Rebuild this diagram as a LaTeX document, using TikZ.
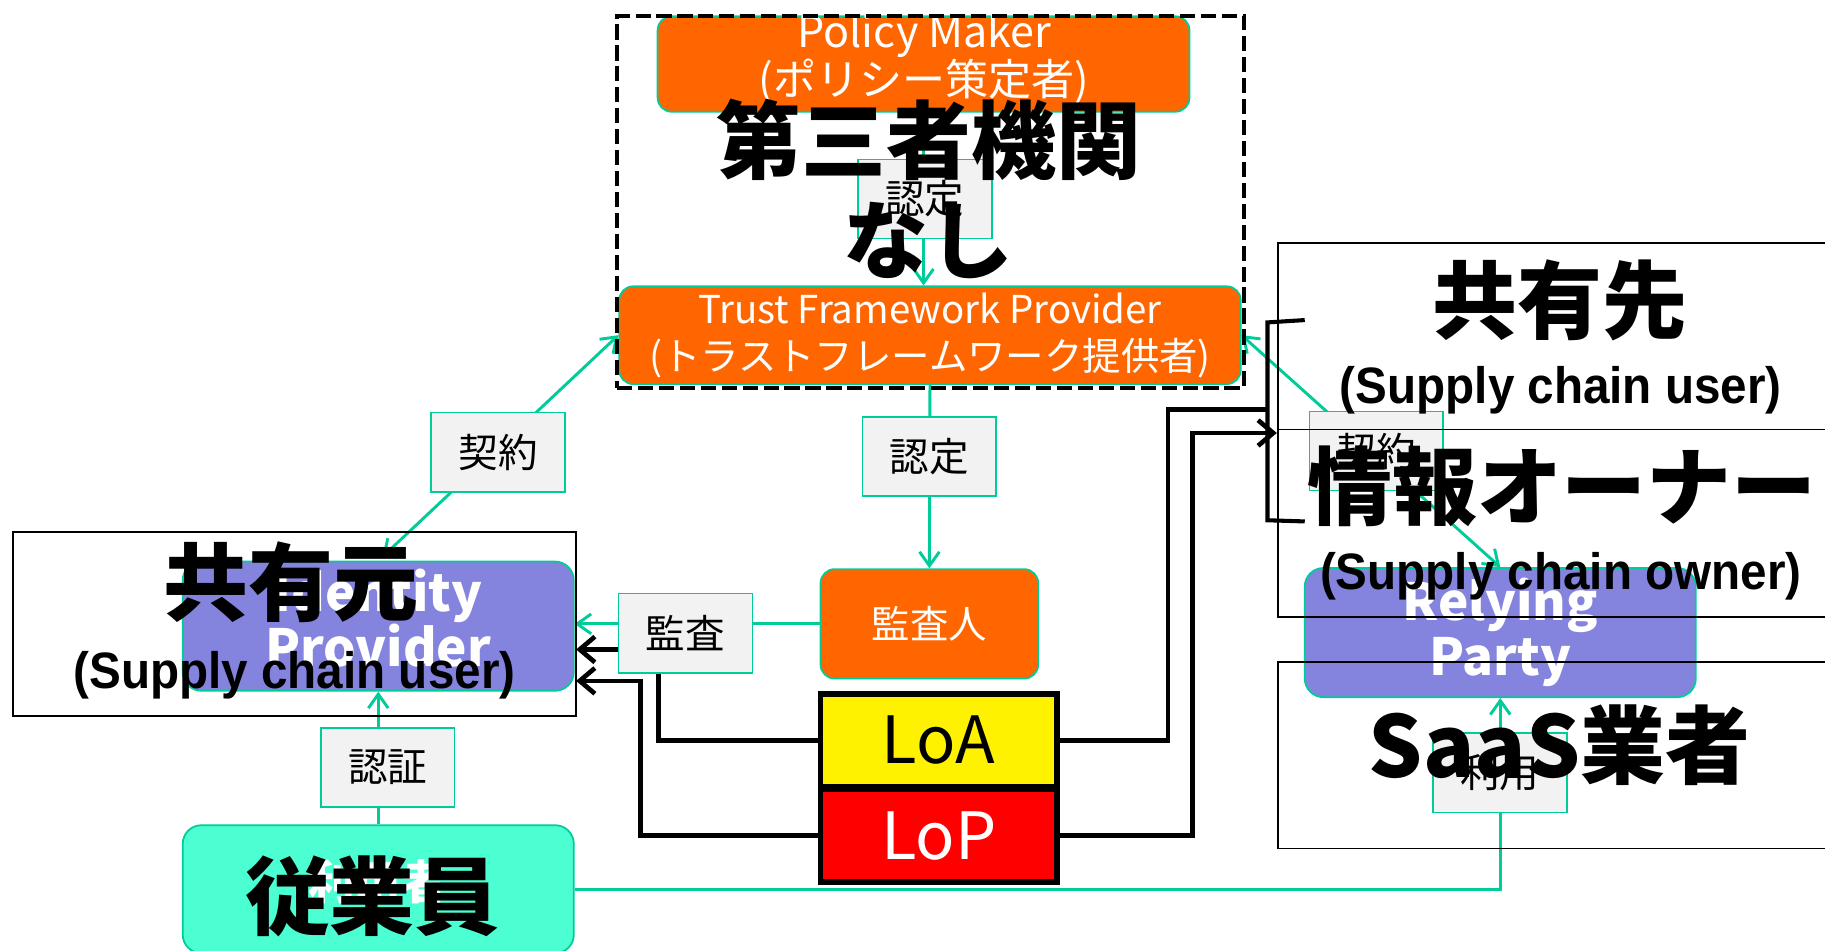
\documentclass[tikz,border=0pt]{standalone}
\usepackage{fontspec}
\setmainfont{Noto Sans CJK JP}
\newfontfamily\jp{Noto Sans CJK JP}
\newfontfamily\lat{Liberation Sans}
\usetikzlibrary{arrows.meta}
\definecolor{org}{RGB}{255,102,0}
\definecolor{tl}{RGB}{0,204,153}
\definecolor{pur}{RGB}{132,132,222}
\definecolor{lg}{RGB}{242,242,242}
\definecolor{mint}{RGB}{76,255,210}
\newcommand{\myfs}[2]{\fontsize{#1}{#2}\selectfont}
\begin{document}
\begin{tikzpicture}[x=1pt,y=-1pt,
  orangebox/.style={draw=tl, line width=1.5pt, fill=org, rounded corners=12pt, text=white, align=center, inner sep=0pt, font=\jp\myfs{33}{40}},
  purbox/.style={draw=tl, line width=1.5pt, fill=pur, rounded corners=16pt, text=white, align=center, inner sep=0pt, font=\jp\bfseries\myfs{44}{47}},
  lbl/.style={draw=tl, line width=1.5pt, fill=lg, minimum width=115pt, minimum height=68pt, inner sep=0pt, font=\jp\myfs{34}{40}},
  outl/.style={draw=black, line width=1.4pt, inner sep=0pt},
  big/.style={font=\jp\bfseries\myfs{73}{80}, text=black, inner sep=0pt},
  sub/.style={font=\lat\bfseries\myfs{44}{48}, text=black, inner sep=0pt},
  conn/.style={draw=tl, line width=2.5pt, -{Straight Barb[length=12pt,width=17pt]}},
  conn2/.style={draw=tl, line width=2.5pt, {Straight Barb[length=12pt,width=17pt]}-{Straight Barb[length=12pt,width=17pt]}},
  blk/.style={draw=black, line width=4pt, -{Straight Barb[length=13pt,width=22pt]}},
  blkn/.style={draw=black, line width=4pt},
  levelbox/.style={draw=black, line width=5pt, minimum width=203pt, minimum height=80pt, inner sep=0pt, font=\jp\myfs{56}{60}}
]
\useasboundingbox (0,0) rectangle (1568,817);

% coloured nodes
\node[orangebox, minimum width=457pt, minimum height=82pt] (pm) at (793.5,55) {};
\node[text=white, align=center, inner sep=0pt, font=\jp\myfs{37}{40}] (pmt) at (794,50) {Policy Maker\\(ポリシー策定者)};
\node[orangebox, minimum width=534pt, minimum height=84pt] (tfp) at (799,288) {Trust Framework Provider\\(トラストフレームワーク提供者)};
\node[orangebox, minimum width=187pt, minimum height=94pt] (aud) at (798.5,536) {監査人};
\node[draw=tl, line width=1.5pt, fill=pur, rounded corners=16pt, minimum width=336pt, minimum height=111pt, inner sep=0pt] (idp) at (325,538) {};
\node[text=white, align=center, inner sep=0pt, font=\jp\bfseries\myfs{44}{47}] (idpt) at (325,531) {Identity\\Provider};
\node[purbox, minimum width=336pt, minimum height=111pt] (rp) at (1289,543.5) {Relying\\Party};
\node[draw=tl, line width=1.5pt, fill=mint, rounded corners=16pt, minimum width=336pt, minimum height=110pt, inner sep=0pt] (emp) at (325,764) {};
\node[text=white, font=\jp\bfseries\myfs{40}{44}, inner sep=0pt] (empt) at (325,758) {利用者};
\node[levelbox, fill=yellow, text=black] (loa) at (806.5,636) {LoA};
\node[levelbox, fill=red, text=white] (lop) at (806.5,718) {LoP};

\coordinate (ia) at (495,558);
\coordinate (ib) at (495,585);
\coordinate (ra) at (1089,352);
\coordinate (rb) at (1097,372);

% connectors
\draw[conn] (pm.south) -- (pm.south |- tfp.north);
\draw[conn] (tfp.south) -- (aud.north);
\draw[conn2, shorten >=5pt] (tfp.west) -- (idp.north);
\draw[conn2] (tfp.east) -- (rp.north);
\draw[conn] (aud.west) -- (aud.west -| idp.east);
\draw[conn] (emp.north) -- (idp.south);
\draw[conn] (emp.east) -| (rp.south);

\draw[blk] (loa.west) -- ++(-137,0) |- (ia);
\draw[blk] (lop.west) -- ++(-152,0) |- (ib);
\draw[blkn] (loa.east) -- ++(93,0) |- (ra);
\draw[blk] (lop.east) -- ++(114,0) |- (rb);
\draw[black, line width=3.5pt] (1121,275) -- (1089,277) -- (1089,447) -- (1121,448);

% labels
\node[lbl] (l1) at (794.5,171) {認定};
\node[lbl] (l2) at (798.5,392) {認定};
\node[lbl] (l3) at (428,388.5) {契約};
\node[lbl] (l4) at (589,544) {監査};
\node[lbl] (l5) at (333,659.5) {認証};
\node[lbl] (l6) at (1182.5,387.5) {契約};
\node[lbl] (l7) at (1288.5,664) {利用};

% dashed group
\node[draw=black, line width=3.5pt, dash pattern=on 13pt off 5pt, minimum width=539pt, minimum height=319pt, inner sep=0pt] (tp) at (799.5,173.5) {};

% outline boxes
\node[outl, minimum width=484pt, minimum height=158pt] (src) at (253,536) {};
\node[outl, minimum width=540pt, minimum height=160pt] (dst) at (1368,289) {};
\node[outl, minimum width=540pt, minimum height=161pt] (own) at (1368,449.5) {};
\node[outl, minimum width=540pt, minimum height=160pt] (saas) at (1368,649) {};

% big overlay texts
\node[big] (t1) at (798,120) {第三者機関};
\node[big] (t2) at (798,207) {なし};
\node[big] (t3) at (250,500) {共有元};
\node[sub] (t4) at (253,580) {\scalebox{0.93}[1]{(Supply chain user)}};
\node[big] (t5) at (1340,258) {共有先};
\node[sub] (t6) at (1341,335) {\scalebox{0.93}[1]{(Supply chain user)}};
\node[big] (t7) at (1342,418) {情報オーナー};
\node[sub] (t8) at (1341,495) {\scalebox{0.93}[1]{(Supply chain owner)}};
\node[big] (t9) at (1340,640) {SaaS業者};
\node[big] (t10) at (320,770) {従業員};
\end{tikzpicture}
\end{document}
